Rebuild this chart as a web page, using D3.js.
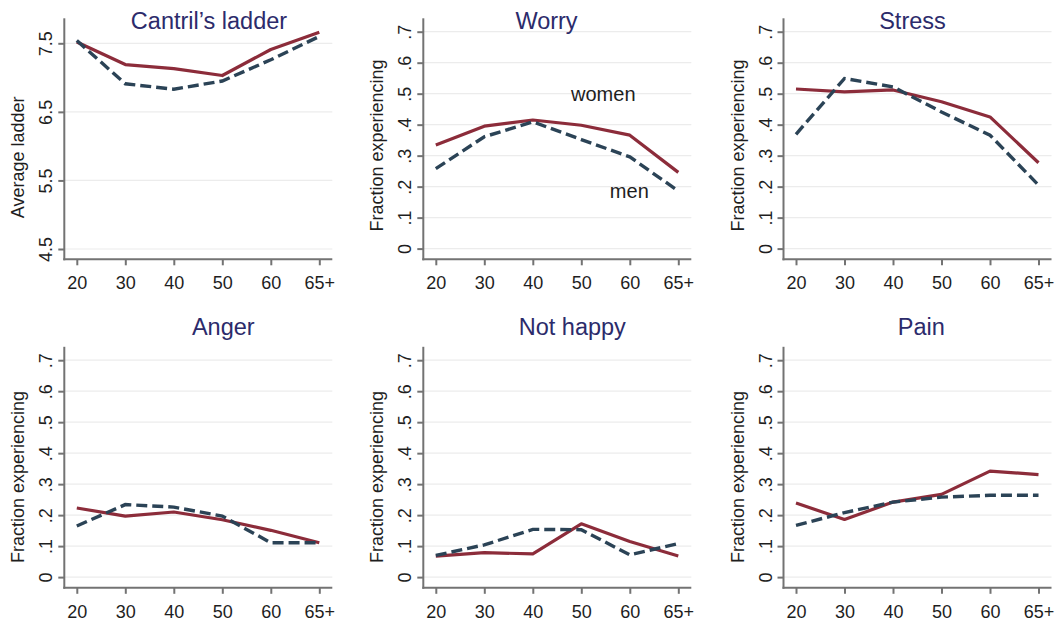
<!DOCTYPE html>
<html>
<head>
<meta charset="utf-8">
<script src="https://cdn.jsdelivr.net/npm/d3@7"></script>
<style>
  html, body { margin: 0; padding: 0; background: #fff; }
  svg { display: block; font-family: "Liberation Sans", Arial, Helvetica, sans-serif; }
</style>
</head>
<body>
<svg id="chart" width="1064" height="623"></svg>
<script>
// Age groups on the horizontal axis
const ages = ["20", "30", "40", "50", "60", "65+"];

// Average Cantril ladder score by age
const ladderWomen = [7.52, 7.19, 7.13, 7.03, 7.41, 7.66];
const ladderMen   = [7.54, 6.91, 6.83, 6.95, 7.26, 7.60];

// Fraction experiencing each feeling, by age
const worryWomen    = [0.334, 0.395, 0.415, 0.398, 0.366, 0.246];
const worryMen      = [0.258, 0.361, 0.409, 0.352, 0.296, 0.186];
const stressWomen   = [0.515, 0.506, 0.512, 0.474, 0.425, 0.277];
const stressMen     = [0.369, 0.549, 0.522, 0.441, 0.366, 0.205];
const angerWomen    = [0.223, 0.197, 0.210, 0.185, 0.151, 0.111];
const angerMen      = [0.165, 0.234, 0.226, 0.197, 0.111, 0.111];
const notHappyWomen = [0.068, 0.079, 0.075, 0.172, 0.115, 0.068];
const notHappyMen   = [0.070, 0.104, 0.154, 0.153, 0.072, 0.108];
const painWomen     = [0.239, 0.186, 0.242, 0.267, 0.342, 0.331];
const painMen       = [0.167, 0.208, 0.242, 0.258, 0.264, 0.264];

// Axis ticks
const fractionTicks = [0, 0.1, 0.2, 0.3, 0.4, 0.5, 0.6, 0.7];
const fractionTickLabels = ["0", ".1", ".2", ".3", ".4", ".5", ".6", ".7"];
const ladderTicks = [4.5, 5.5, 6.5, 7.5];
const ladderTickLabels = ["4.5", "5.5", "6.5", "7.5"];

// Panel titles and axis titles
const titles = ["Cantril\u2019s ladder", "Worry", "Stress", "Anger", "Not happy", "Pain"];
const yTitles = ["Average ladder", "Fraction experiencing", "Fraction experiencing",
                 "Fraction experiencing", "Fraction experiencing", "Fraction experiencing"];
const seriesNames = ["women", "men"];

const panelsData = [
  { women: ladderWomen,   men: ladderMen,   ticks: ladderTicks,   labels: ladderTickLabels,   domain: [4.5, 7.5] },
  { women: worryWomen,    men: worryMen,    ticks: fractionTicks, labels: fractionTickLabels, domain: [0, 0.7] },
  { women: stressWomen,   men: stressMen,   ticks: fractionTicks, labels: fractionTickLabels, domain: [0, 0.7] },
  { women: angerWomen,    men: angerMen,    ticks: fractionTicks, labels: fractionTickLabels, domain: [0, 0.7] },
  { women: notHappyWomen, men: notHappyMen, ticks: fractionTicks, labels: fractionTickLabels, domain: [0, 0.7] },
  { women: painWomen,     men: painMen,     ticks: fractionTicks, labels: fractionTickLabels, domain: [0, 0.7] }
];

// Layout: y-axis x position per column, x-axis y position per row
const colAxisX = [64.3, 423.3, 783.5];
const rowAxisY = [259.3, 587.8];
const titleX = [209, 546.5, 912.5, 223.3, 572.3, 921.3];
const yTitleOffset = [102, 113.8, 113.8, 110.8, 110.8, 110.8];

const COLORS = {
  women: "#8c2c3a",
  men: "#2b4356",
  axis: "#737373",
  grid: "#ececec",
  title: "#2c2b6b",
  text: "#1e1e1e"
};

const svg = d3.select("#chart");

panelsData.forEach((p, i) => {
  const col = i % 3, row = Math.floor(i / 3);
  const ax = colAxisX[col], ay = rowAxisY[row];
  const g = svg.append("g");

  const x = d3.scalePoint().domain(ages).range([ax + 12.5, ax + 255]);
  const isLadder = i === 0;
  const y = d3.scaleLinear().domain(p.domain)
    .range(isLadder ? [ay - 10.3, ay - 216] : [ay - 10.7, ay - 227.6]);
  const axisTop = ay - 241;
  const axisRight = ax + 268;

  // horizontal gridlines
  g.append("g").selectAll("line").data(p.ticks).join("line")
    .attr("x1", ax).attr("x2", axisRight)
    .attr("y1", d => y(d)).attr("y2", d => y(d))
    .attr("stroke", COLORS.grid).attr("stroke-width", 1.2);

  // y axis
  const yAxis = d3.axisLeft(y).tickValues(p.ticks)
    .tickFormat((d, k) => p.labels[k]).tickSize(6).tickSizeOuter(0);
  const yg = g.append("g").attr("transform", `translate(${ax},0)`).call(yAxis);
  yg.select(".domain").remove();
  yg.selectAll(".tick line").attr("stroke", COLORS.axis).attr("stroke-width", 2);
  yg.selectAll(".tick text")
    .attr("x", null).attr("dy", null)
    .attr("transform", "translate(-12,0) rotate(-90)")
    .attr("text-anchor", "middle")
    .attr("fill", COLORS.text)
    .style("font-size", "18px");

  // x axis
  const xAxis = d3.axisBottom(x).tickSize(6).tickSizeOuter(0);
  const xg = g.append("g").attr("transform", `translate(0,${ay})`).call(xAxis);
  xg.select(".domain").remove();
  xg.selectAll(".tick line").attr("stroke", COLORS.axis).attr("stroke-width", 2);
  xg.selectAll(".tick text")
    .attr("y", 30).attr("dy", null)
    .attr("fill", COLORS.text)
    .style("font-size", "18px");

  // axis lines
  g.append("line").attr("x1", ax).attr("x2", ax).attr("y1", axisTop).attr("y2", ay + 1)
    .attr("stroke", COLORS.axis).attr("stroke-width", 2);
  g.append("line").attr("x1", ax - 1).attr("x2", axisRight).attr("y1", ay).attr("y2", ay)
    .attr("stroke", COLORS.axis).attr("stroke-width", 2);

  // y axis title
  g.append("text")
    .attr("transform", `translate(${ax - 40},${ay - yTitleOffset[i]}) rotate(-90)`)
    .attr("text-anchor", "middle")
    .attr("fill", COLORS.text)
    .style("font-size", "18px")
    .text(yTitles[i]);

  // panel title
  g.append("text")
    .attr("x", titleX[i]).attr("y", row === 0 ? 29 : 335)
    .attr("text-anchor", "middle")
    .attr("fill", COLORS.title)
    .style("font-size", "23.5px")
    .text(titles[i]);

  // series lines
  const line = d3.line().x((d, k) => x(ages[k])).y(d => y(d));
  g.append("path").datum(p.women)
    .attr("d", line).attr("fill", "none")
    .attr("stroke", COLORS.women).attr("stroke-width", 3.2)
    .attr("stroke-linejoin", "round");
  g.append("path").datum(p.men)
    .attr("d", line).attr("fill", "none")
    .attr("stroke", COLORS.men).attr("stroke-width", 3.4)
    .attr("stroke-dasharray", "11,5");

  // series labels in the Worry panel
  if (i === 1) {
    g.append("text").attr("x", x("40") + 70.5).attr("y", 100.5)
      .attr("text-anchor", "middle").attr("fill", COLORS.text)
      .style("font-size", "20px").text(seriesNames[0]);
    g.append("text").attr("x", x("50") + 48).attr("y", 198)
      .attr("text-anchor", "middle").attr("fill", COLORS.text)
      .style("font-size", "20px").text(seriesNames[1]);
  }
});
</script>
</body>
</html>
